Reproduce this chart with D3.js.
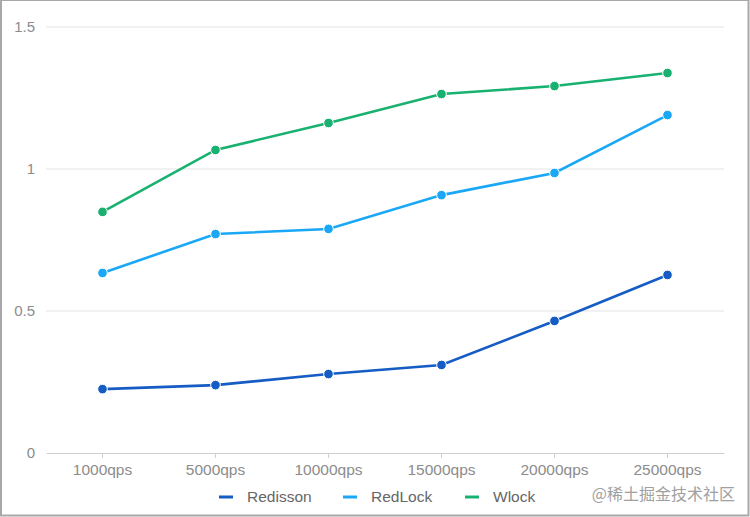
<!DOCTYPE html>
<html><head><meta charset="utf-8">
<script src="https://cdn.jsdelivr.net/npm/d3@7"></script>
<style>body{margin:0;background:#fff}svg{display:block}</style>
</head><body>
<script>
const categories = ["1000qps","5000qps","10000qps","15000qps","20000qps","25000qps"];
const seriesNames = ["Redisson","RedLock","Wlock"];
const redisson = [0.225,0.239,0.278,0.31,0.465,0.627];
const redlock = [0.634,0.771,0.789,0.908,0.986,1.19];
const wlock = [0.849,1.067,1.162,1.264,1.292,1.338];
const yTicks = [0,0.5,1,1.5];
const yTickLabels = ["0","0.5","1","1.5"];
const colors = ["#155cc4","#1aa8f6","#18b170"];
const seriesData = [redisson, redlock, wlock];

const W=750,H=517;
const svg=d3.select("body").append("svg").attr("width",W).attr("height",H);
svg.append("rect").attr("x",1).attr("y",0).attr("width",W-2.5).attr("height",H-1.5)
  .attr("fill","#fff").attr("stroke","#a8a8a8").attr("stroke-width",2);

const x=d3.scaleBand().domain(categories).range([46,724]).padding(0);
const y=d3.scaleLinear().domain([0,1.5]).range([453,27]);
const font="Helvetica, Arial, 'Liberation Sans', sans-serif";

// grid
svg.append("g").selectAll("line").data(yTicks.filter(d=>d>0)).join("line")
  .attr("x1",46).attr("x2",724).attr("y1",d=>y(d)).attr("y2",d=>y(d))
  .attr("stroke","#e3e3e3").attr("stroke-width",1);
// y labels
svg.append("g").selectAll("text").data(yTicks).join("text")
  .attr("x",35).attr("y",d=>y(d)).attr("dy","0.35em").attr("text-anchor","end")
  .attr("font-family",font).attr("font-size",15).attr("fill","#8c8c8c")
  .text((d,i)=>yTickLabels[i]);
// x axis
const xa=svg.append("g").attr("transform","translate(0,453)")
  .call(d3.axisBottom(x).tickSize(5).tickSizeOuter(0).tickPadding(6));
xa.select(".domain").attr("stroke","#cfcfcf");
xa.selectAll(".tick line").attr("stroke","#cfcfcf");
xa.selectAll(".tick text").attr("font-family",font).attr("font-size",15.5).attr("fill","#8c8c8c");

// lines
const line=d3.line().x((d,i)=>x(categories[i])+x.bandwidth()/2).y(d=>y(d));
seriesData.forEach((s,k)=>{
  svg.append("path").datum(s).attr("d",line).attr("fill","none")
    .attr("stroke",colors[k]).attr("stroke-width",2.6);
  svg.append("g").selectAll("circle").data(s).join("circle")
    .attr("cx",(d,i)=>x(categories[i])+x.bandwidth()/2).attr("cy",d=>y(d))
    .attr("r",4.8).attr("fill",colors[k]).attr("stroke","#fff").attr("stroke-width",1);
});

// legend
const legendX=[219,343,465];
const lg=svg.append("g");
seriesNames.forEach((n,k)=>{
  lg.append("line").attr("x1",legendX[k]).attr("x2",legendX[k]+14).attr("y1",497).attr("y2",497)
    .attr("stroke",colors[k]).attr("stroke-width",3);
  lg.append("text").attr("x",legendX[k]+28).attr("y",497).attr("dy","0.35em")
    .attr("font-family",font).attr("font-size",15.5).attr("fill","#666").text(n);
});
// watermark
svg.append("text").attr("x",735).attr("y",494).attr("dy","0.35em").attr("text-anchor","end")
  .attr("font-family","'Noto Sans CJK SC', sans-serif").attr("font-size",16).attr("fill","#a0a0a0")
  .text("@稀土掘金技术社区");
</script>
</body></html>
